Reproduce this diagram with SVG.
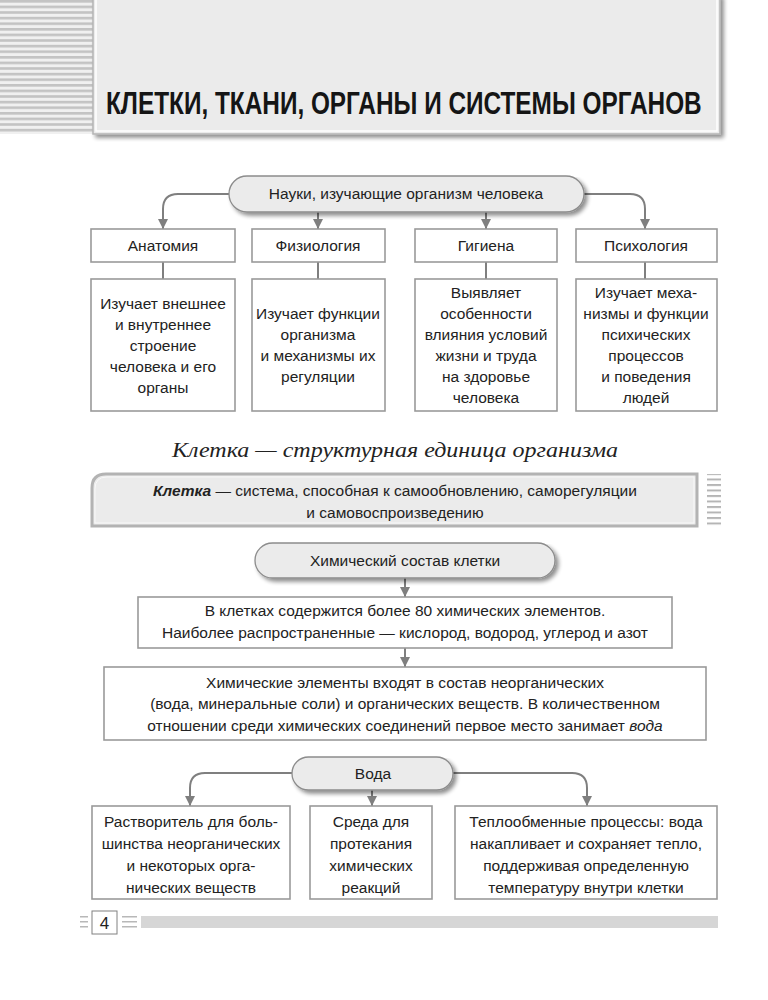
<svg xmlns="http://www.w3.org/2000/svg" width="768" height="1000" viewBox="0 0 768 1000">
<style>
text{font-family:"Liberation Sans",Arial,sans-serif;font-size:15.5px;fill:#222;}
.c{text-anchor:middle;}
.box{fill:#fff;stroke:#9a9a9a;stroke-width:1.6;}
.pill{fill:#ebebeb;stroke:#8c8c8c;stroke-width:1.3;}
.con{fill:none;stroke:#7f7f7f;stroke-width:2;}
</style>
<defs>
<marker id="ah" markerUnits="userSpaceOnUse" markerWidth="10" markerHeight="10" refX="10" refY="5" orient="auto" viewBox="0 0 10 10">
<path d="M0,0 L10,5 L0,10 Z" fill="#7f7f7f"/>
</marker>
<pattern id="hstripe" width="10" height="5.6" patternUnits="userSpaceOnUse">
<rect width="10" height="5.6" fill="#f0f0f0"/>
<rect y="0" width="10" height="2.6" fill="#c3c3c3"/>
</pattern>
<pattern id="rstripe" width="14" height="5.5" patternUnits="userSpaceOnUse">
<rect y="0" width="14" height="2" fill="#b5b5b5"/>
</pattern>
<filter id="ds" x="-5%" y="-5%" width="115%" height="130%">
<feGaussianBlur in="SourceAlpha" stdDeviation="2"/>
<feOffset dx="3" dy="3"/>
<feComponentTransfer><feFuncA type="linear" slope="0.45"/></feComponentTransfer>
<feMerge><feMergeNode/><feMergeNode in="SourceGraphic"/></feMerge>
</filter>
</defs>
<rect width="768" height="1000" fill="#fff"/>

<g id="header">
<rect x="0" y="0" width="93" height="134" fill="url(#hstripe)"/>
<rect x="93" y="-5" width="627" height="139" fill="#ebebeb" stroke="#b5b5b5" stroke-width="1.5" filter="url(#ds)"/>
<rect x="96" y="-5" width="621" height="136" fill="none" stroke="#fff" stroke-width="1.5"/>
<text transform="translate(106 114) scale(0.79 1)" x="0" y="0" textLength="754" lengthAdjust="spacingAndGlyphs" style="font-family:'Liberation Sans',Arial,sans-serif;font-weight:bold;font-size:31px;fill:#151515;">КЛЕТКИ, ТКАНИ, ОРГАНЫ И СИСТЕМЫ ОРГАНОВ</text>
</g>

<g id="connectors">
<path class="con" d="M229,194 H178 Q163,194 163,209 V229" marker-end="url(#ah)"/>
<path class="con" d="M584,194 H630 Q645,194 645,209 V229" marker-end="url(#ah)"/>
<path class="con" d="M318,212 V229" marker-end="url(#ah)"/>
<path class="con" d="M486,212 V229" marker-end="url(#ah)"/>
<path class="con" d="M163,262 V279"/>
<path class="con" d="M318,262 V279"/>
<path class="con" d="M486,262 V279"/>
<path class="con" d="M645,262 V279"/>
<path class="con" d="M405,578 V597" marker-end="url(#ah)"/>
<path class="con" d="M405,648 V667" marker-end="url(#ah)"/>
<path class="con" d="M292,773 H205 Q190,773 190,788 V806" marker-end="url(#ah)"/>
<path class="con" d="M453,773 H572 Q587,773 587,788 V806" marker-end="url(#ah)"/>
<path class="con" d="M372,790 V806" marker-end="url(#ah)"/>
</g>

<g id="sciences">
<rect class="pill" x="229" y="176" width="355" height="36" rx="18" filter="url(#ds)"/>
<text class="c" x="406" y="199">Науки, изучающие организм человека</text>
</g>

<g id="anatomy">
<rect class="box" x="91" y="229" width="144" height="33"/>
<text class="c" x="163" y="251">Анатомия</text>
<rect class="box" x="91" y="279" width="144" height="132"/>
<text class="c" x="163" y="309">Изучает внешнее</text>
<text class="c" x="163" y="330">и внутреннее</text>
<text class="c" x="163" y="351">строение</text>
<text class="c" x="163" y="372">человека и его</text>
<text class="c" x="163" y="393">органы</text>
</g>

<g id="physiology">
<rect class="box" x="252" y="229" width="133" height="33"/>
<text class="c" x="318" y="251">Физиология</text>
<rect class="box" x="252" y="279" width="133" height="132"/>
<text class="c" x="318" y="319">Изучает функции</text>
<text class="c" x="318" y="340">организма</text>
<text class="c" x="318" y="361">и механизмы их</text>
<text class="c" x="318" y="382">регуляции</text>
</g>

<g id="hygiene">
<rect class="box" x="415" y="229" width="142" height="33"/>
<text class="c" x="486" y="251">Гигиена</text>
<rect class="box" x="415" y="279" width="142" height="132"/>
<text class="c" x="486" y="298">Выявляет</text>
<text class="c" x="486" y="319">особенности</text>
<text class="c" x="486" y="340">влияния условий</text>
<text class="c" x="486" y="361">жизни и труда</text>
<text class="c" x="486" y="382">на здоровье</text>
<text class="c" x="486" y="403">человека</text>
</g>

<g id="psychology">
<rect class="box" x="576" y="229" width="141" height="33"/>
<text class="c" x="646" y="251">Психология</text>
<rect class="box" x="576" y="279" width="141" height="132"/>
<text class="c" x="646" y="298">Изучает меха-</text>
<text class="c" x="646" y="319">низмы и функции</text>
<text class="c" x="646" y="340">психических</text>
<text class="c" x="646" y="361">процессов</text>
<text class="c" x="646" y="382">и поведения</text>
<text class="c" x="646" y="403">людей</text>
</g>

<g id="cell-heading">
<text class="c" x="395" y="457" textLength="446" lengthAdjust="spacingAndGlyphs" style="font-family:'Liberation Serif','Times New Roman',serif;font-style:italic;font-size:21px;fill:#222;">Клетка — структурная единица организма</text>
</g>

<g id="cell-definition">
<path d="M92,526 V488 Q92,474 106,474 H697 V526 Z" fill="#ebebeb" stroke="#b3b3b3" stroke-width="3"/>
<path d="M95,523 V489 Q95,477 107,477 H694 V523 Z" fill="none" stroke="#f8f8f8" stroke-width="1"/>
<rect x="707" y="474" width="14" height="54" fill="url(#rstripe)"/>
<text class="c" x="395" y="496"><tspan style="font-weight:bold;font-style:italic;">Клетка</tspan> — система, способная к самообновлению, саморегуляции</text>
<text class="c" x="395" y="518">и самовоспроизведению</text>
</g>

<g id="chem-composition">
<rect class="pill" x="255" y="543" width="300" height="35" rx="17.5" filter="url(#ds)"/>
<text class="c" x="405" y="566">Химический состав клетки</text>
</g>

<g id="chem-elements">
<rect class="box" x="138" y="597" width="534" height="51"/>
<text class="c" x="405" y="616">В клетках содержится более 80 химических элементов.</text>
<text class="c" x="405" y="638">Наиболее распространенные — кислород, водород, углерод и азот</text>
</g>

<g id="chem-substances">
<rect class="box" x="104" y="667" width="602" height="73"/>
<text class="c" x="405" y="688">Химические элементы входят в состав неорганических</text>
<text class="c" x="405" y="709">(вода, минеральные соли) и органических веществ. В количественном</text>
<text class="c" x="405" y="731">отношении среди химических соединений первое место занимает <tspan font-style="italic">вода</tspan></text>
</g>

<g id="water">
<rect class="pill" x="292" y="757" width="161" height="33" rx="16.5" filter="url(#ds)"/>
<text class="c" x="373" y="779">Вода</text>
</g>

<g id="solvent">
<rect class="box" x="92" y="806" width="198" height="93"/>
<text class="c" x="191" y="827">Растворитель для боль-</text>
<text class="c" x="191" y="849">шинства неорганических</text>
<text class="c" x="191" y="871">и некоторых орга-</text>
<text class="c" x="191" y="893">нических веществ</text>
</g>

<g id="medium">
<rect class="box" x="310" y="806" width="122" height="93"/>
<text class="c" x="371" y="827">Среда для</text>
<text class="c" x="371" y="849">протекания</text>
<text class="c" x="371" y="871">химических</text>
<text class="c" x="371" y="893">реакций</text>
</g>

<g id="heat">
<rect class="box" x="455" y="806" width="262" height="93"/>
<text class="c" x="586" y="827">Теплообменные процессы: вода</text>
<text class="c" x="586" y="849">накапливает и сохраняет тепло,</text>
<text class="c" x="586" y="871">поддерживая определенную</text>
<text class="c" x="586" y="893">температуру внутри клетки</text>
</g>

<g id="footer">
<g fill="#b8b8b8">
<rect x="80" y="916" width="8" height="1.5"/><rect x="80" y="921" width="8" height="1.5"/><rect x="80" y="926" width="8" height="1.5"/>
<rect x="122" y="916" width="15" height="1.5"/><rect x="122" y="921" width="15" height="1.5"/><rect x="122" y="926" width="15" height="1.5"/>
</g>
<rect x="92" y="911" width="25" height="23" fill="#fff" stroke="#808080" stroke-width="1"/>
<text class="c" x="104.5" y="929" style="font-size:17px;">4</text>
<rect x="141" y="916" width="577" height="12" fill="#d6d6d6"/>
</g>
</svg>
